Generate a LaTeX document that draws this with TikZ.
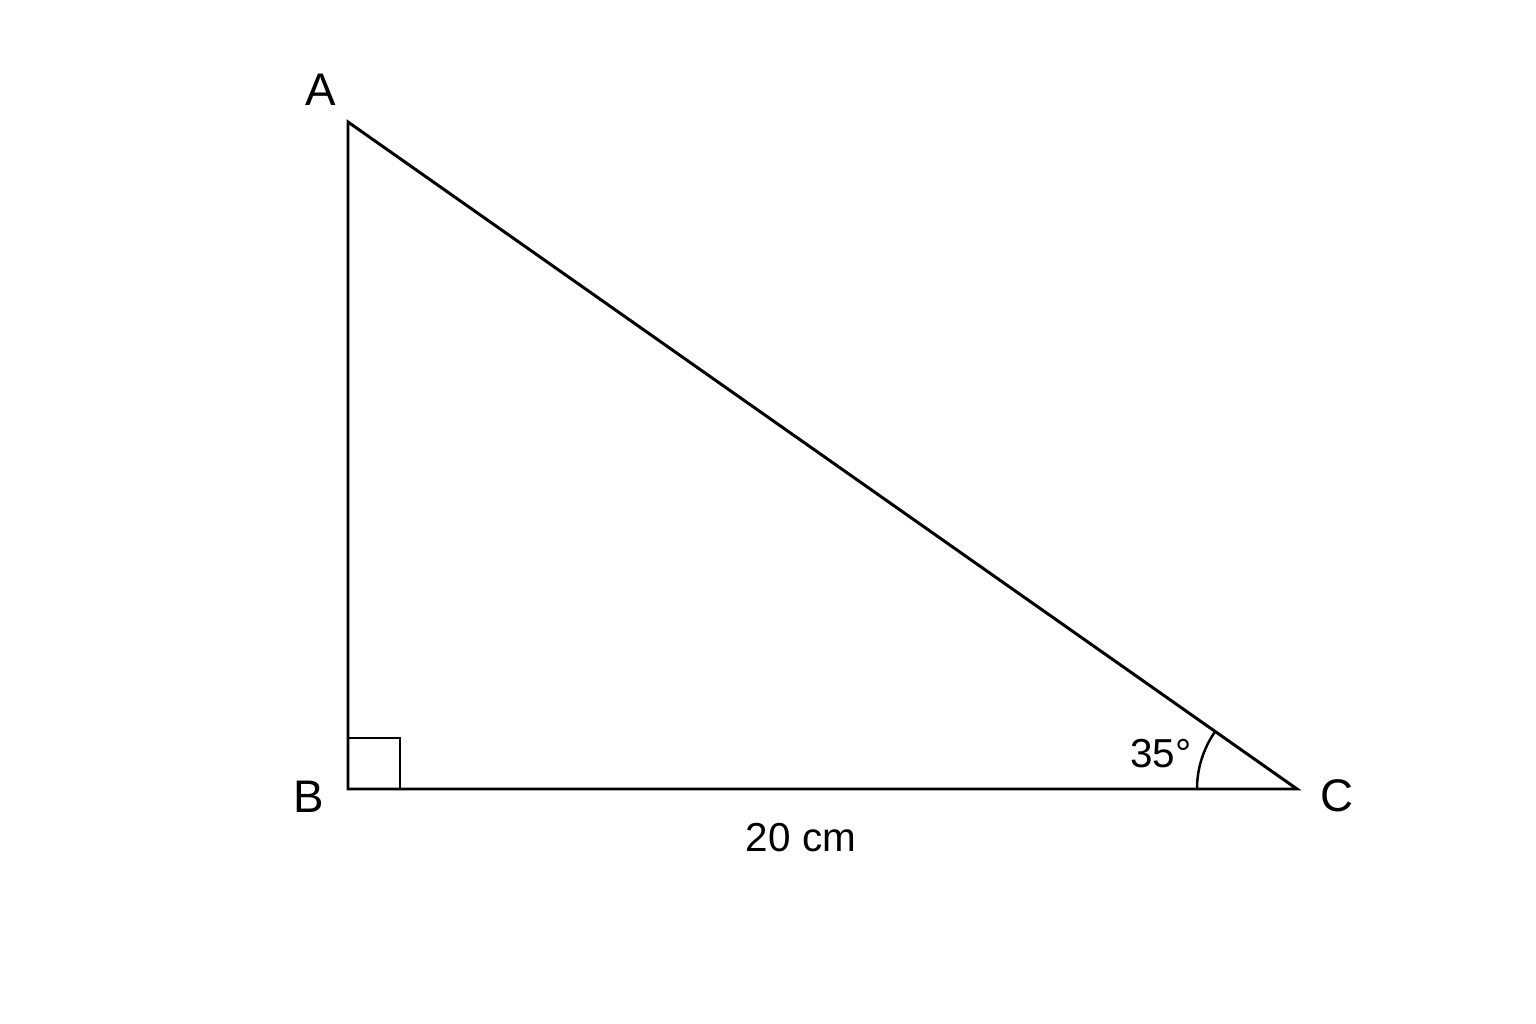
\documentclass[tikz,border=0pt]{standalone}
\usepackage{fontspec}
\setmainfont{Liberation Sans}
\begin{document}
\begin{tikzpicture}[x=0.01cm,y=0.01cm,
  side/.style={line width=0.85pt, line join=miter},
  mark90/.style={line width=0.55pt},
  anglemark/.style={line width=0.7pt},
  vlabel/.style={inner sep=0pt, font=\fontsize{13}{15}\selectfont},
  mlabel/.style={inner sep=0pt, font=\fontsize{11.5}{13}\selectfont}]
\useasboundingbox[fill=white] (0,0) rectangle (1536,1024);
\coordinate (A) at (348,902);
\coordinate (B) at (348,235);
\coordinate (C) at (1297,235);
\coordinate (Q) at (400,286);
\coordinate (S) at (1197,235);
\draw[side] (A) -- (B) -- (C) -- cycle;
\draw[mark90] (B) rectangle (Q);
\draw[anglemark] (S) arc[start angle=180, end angle=145, radius=100];
\node[vlabel] (LA) at (321,934) {A};
\node[vlabel] (LB) at (309,227) {B};
\node[vlabel] (LC) at (1337,228) {C};
\node[mlabel] (LAng) at (1161,270) {35°};
\node[mlabel] (LBase) at (801,186) {20 cm};
\end{tikzpicture}
\end{document}
